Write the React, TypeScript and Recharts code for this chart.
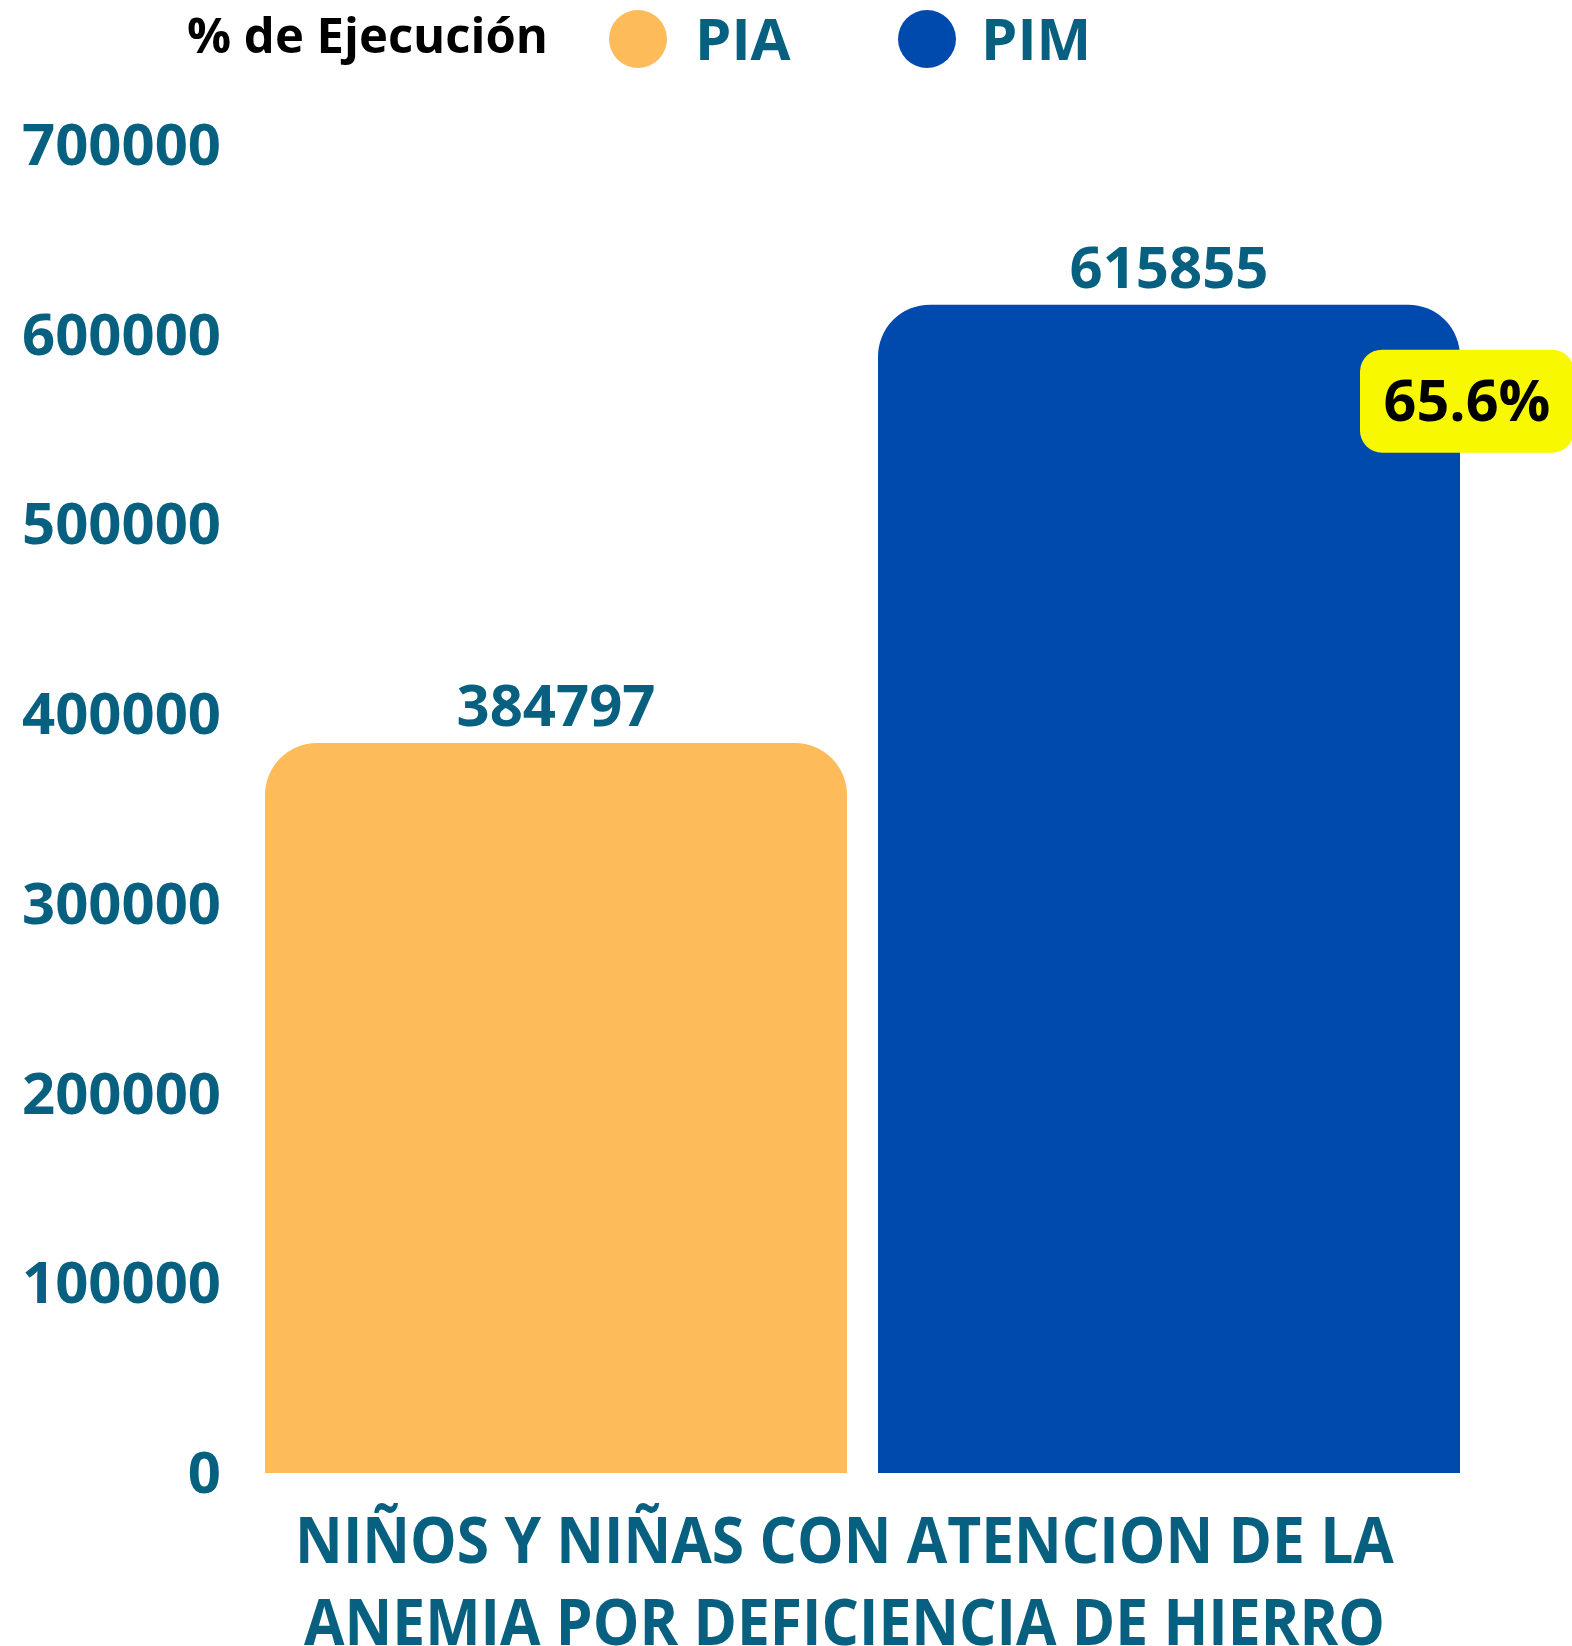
import React from 'react';
import { BarChart, Bar, XAxis, YAxis, LabelList } from 'recharts';

const categories = ['NIÑOS Y NIÑAS CON ATENCION DE LA ANEMIA POR DEFICIENCIA DE HIERRO'];
const categoryLines = [['NIÑOS Y NIÑAS CON ATENCION DE LA', 'ANEMIA POR DEFICIENCIA DE HIERRO']];
const piaValues = [384797];
const pimValues = [615855];
const ejecucionLabels = ['65.6%'];
const yTicks = [0, 100000, 200000, 300000, 400000, 500000, 600000, 700000];
const legendTitle = '% de Ejecución';
const seriesNames = ['PIA', 'PIM'];

const data = categories.map((c, i) => ({
  name: c,
  PIA: piaValues[i],
  PIM: pimValues[i],
  pct: ejecucionLabels[i],
}));

const FONT = "'Open Sans', sans-serif";
const TEAL = '#07607f';
const PIA_COLOR = '#fdbb5a';
const PIM_COLOR = '#004aad';
const YELLOW = '#f8f800';

const YTick = (props: any) => {
  const { x, y, payload } = props;
  return (
    <text x={x} y={y} dy={20} textAnchor="end" fill={TEAL} fontFamily={FONT} fontWeight={700} fontSize={58}>
      {payload.value}
    </text>
  );
};

const XTick = (props: any) => {
  const { x, y, index } = props;
  const lines = categoryLines[index] || [];
  return (
    <g>
      {lines.map((l, i) => (
        <text
          key={i}
          transform={`translate(${x - 18}, ${y + 90 + i * 82}) scale(0.918, 1)`}
          x={0}
          y={0}
          textAnchor="middle"
          fill={TEAL}
          fontFamily={FONT}
          fontWeight={700}
          fontSize={64}
        >
          {l}
        </text>
      ))}
    </g>
  );
};

const PctLabel = (props: any) => {
  const { x, y, width, index } = props;
  const cx = x + width + 7;
  const top = y + 45;
  const w = 214;
  const h = 103;
  return (
    <g>
      <rect x={cx - w / 2} y={top} width={w} height={h} rx={22} ry={22} fill={YELLOW} />
      <text x={cx} y={top + h / 2} dy={20} textAnchor="middle" fill="#000" fontFamily={FONT} fontWeight={700} fontSize={57.5}>
        {ejecucionLabels[index]}
      </text>
    </g>
  );
};

const LegendBlock = () => (
  <svg width={1572} height={100} style={{ position: 'absolute', left: 0, top: 0, display: 'block' }}>
    <text x={187} y={53} fill="#000" fontFamily={FONT} fontWeight={700} fontSize={49}>{legendTitle}</text>
    <circle cx={638} cy={39} r={29} fill={PIA_COLOR} />
    <text x={695} y={60} fill={TEAL} fontFamily={FONT} fontWeight={700} fontSize={58}>{seriesNames[0]}</text>
    <circle cx={927} cy={39} r={29} fill={PIM_COLOR} />
    <text x={981} y={60} fill={TEAL} fontFamily={FONT} fontWeight={700} fontSize={58}>{seriesNames[1]}</text>
  </svg>
);

export default function App() {
  return (
    <div style={{ position: 'absolute', left: 0, top: 0, width: 1572, height: 1646, background: '#fff' }}>
      <BarChart
        width={1572}
        height={1646}
        data={data}
        margin={{ top: 145, right: 68, bottom: 0, left: 0 }}
        barSize={582}
        barGap={31}
      >
        <XAxis
          dataKey="name"
          height={173}
          axisLine={false}
          tickLine={false}
          tickSize={0}
          tickMargin={0}
          tick={<XTick />}
          interval={0}
        />
        <YAxis
          width={221}
          domain={[0, 700000]}
          ticks={yTicks}
          interval={0}
          axisLine={false}
          tickLine={false}
          tickSize={0}
          tickMargin={0}
          tick={<YTick />}
        />
        <Bar dataKey="PIA" name={seriesNames[0]} fill={PIA_COLOR} radius={[52, 52, 0, 0]} isAnimationActive={false}>
          <LabelList dataKey="PIA" position="top" offset={17} fill={TEAL} fontFamily={FONT} fontWeight={700} fontSize={58} />
        </Bar>
        <Bar dataKey="PIM" name={seriesNames[1]} fill={PIM_COLOR} radius={[52, 52, 0, 0]} isAnimationActive={false}>
          <LabelList dataKey="PIM" position="top" offset={17} fill={TEAL} fontFamily={FONT} fontWeight={700} fontSize={58} />
          <LabelList dataKey="pct" content={<PctLabel />} />
        </Bar>
      </BarChart>
      <LegendBlock />
    </div>
  );
}
